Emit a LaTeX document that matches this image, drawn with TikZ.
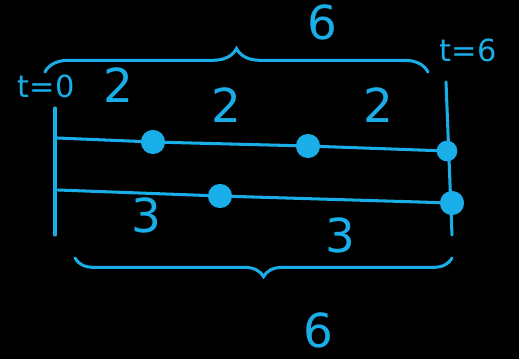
\documentclass[tikz,border=0pt]{standalone}
\usepackage{fontspec}
\setmainfont{DejaVu Sans}
\usetikzlibrary{decorations.pathreplacing, positioning}
\definecolor{ink}{HTML}{1AAEE8}

\begin{document}
\begin{tikzpicture}[x=0.03cm, y=-0.03cm, line width=2.6pt, line cap=round,
  dot/.style={circle, fill=ink, draw=ink, inner sep=0pt, minimum size=18pt},
  num/.style={text=ink, font=\fontsize{40}{40}\selectfont},
  lbl/.style={text=ink, inner sep=1pt, font=\fontsize{26}{26}\selectfont}]
\fill[black] (0,0) rectangle (519,359);
\useasboundingbox (0,0) rectangle (519,359);

% time axes
\coordinate (l0) at (55,108);
\coordinate (l1) at (55,235);
\coordinate (r0) at (446,82);
\coordinate (r1) at (452,235);
\draw[ink] (l0) -- (l1);
\draw[ink] (r0) -- (r1);

% upper track
\coordinate (u0) at (57,138);
\node[dot] (ua) at (153,142) {};
\node[dot] (ub) at (308,146) {};
\node[dot, minimum size=15pt] (uc) at (447,151) {};
\draw[ink] (u0) -- (ua) -- (ub) -- (uc);

% lower track
\coordinate (d0) at (58,190);
\node[dot] (da) at (220,196) {};
\node[dot] (db) at (452,203) {};
\draw[ink] (d0) -- (da) -- (db);

% braces
\draw[ink, decorate, decoration={brace, amplitude=20pt}] (45,72) -- (428,72);
\draw[ink, decorate, decoration={brace, mirror, amplitude=16pt}] (75,258) -- (452,258);

% labels
\node[lbl] (t0) at (46,86) {t=0};
\node[lbl] (t6) at (468,50) {t=6};
\node[num] (top) at (322,22) {6};
\node[num] (bot) at (318,330) {6};
\node[num] (a1) at (118,85) {2};
\node[num] (a2) at (226,105) {2};
\node[num] (a3) at (378,105) {2};
\node[num] (b1) at (146,215) {3};
\node[num] (b2) at (340,235) {3};
\end{tikzpicture}
\end{document}
